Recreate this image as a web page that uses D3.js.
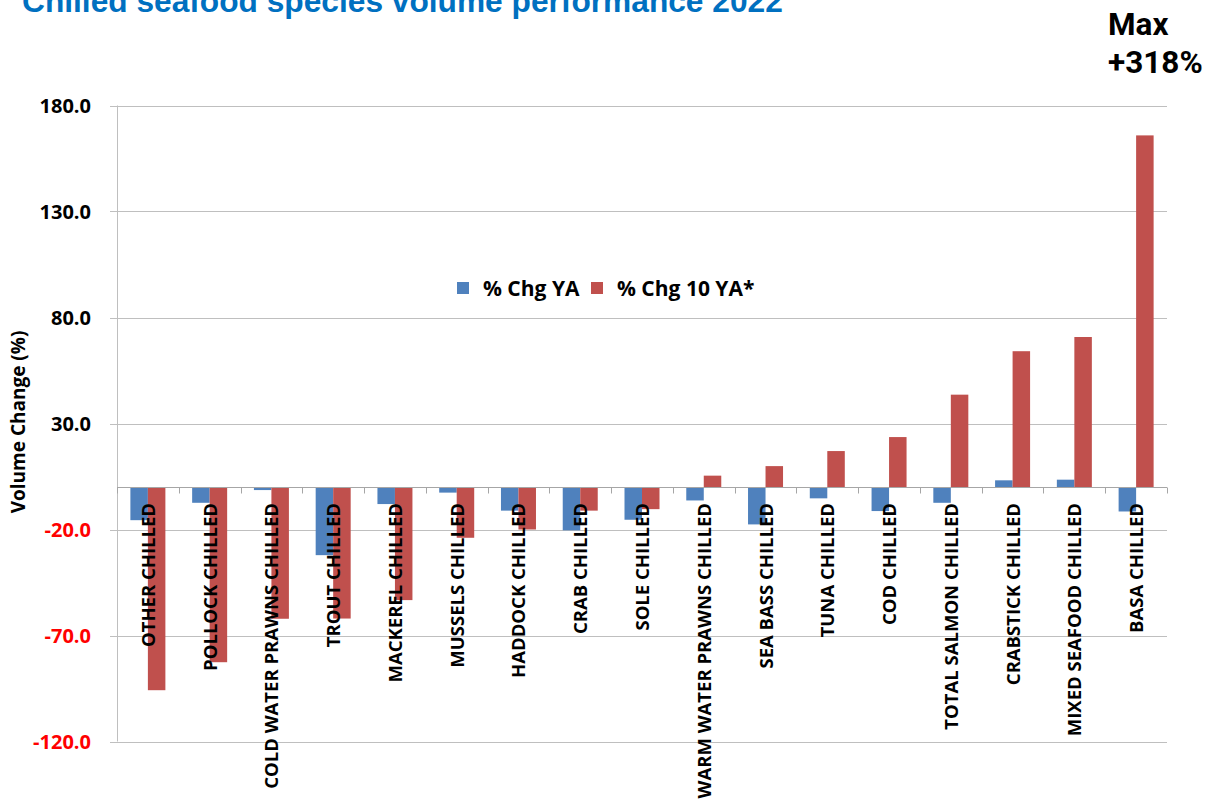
<!DOCTYPE html>
<html>
<head>
<meta charset="utf-8">
<script src="https://cdn.jsdelivr.net/npm/d3@7"></script>
<style>
  html, body { margin: 0; padding: 0; background: #fff; }
  svg { display: block; }
</style>
</head>
<body>
<svg id="chart" width="1206" height="807"></svg>
<script>
// Chilled seafood species, sorted by 10-year change
const categories = [
  "OTHER CHILLED", "POLLOCK CHILLED", "COLD WATER PRAWNS CHILLED", "TROUT CHILLED",
  "MACKEREL CHILLED", "MUSSELS CHILLED", "HADDOCK CHILLED", "CRAB CHILLED",
  "SOLE CHILLED", "WARM WATER PRAWNS CHILLED", "SEA BASS CHILLED", "TUNA CHILLED",
  "COD CHILLED", "TOTAL SALMON CHILLED", "CRABSTICK CHILLED", "MIXED SEAFOOD CHILLED",
  "BASA CHILLED"
];
const seriesNames = ["% Chg YA", "% Chg 10 YA*"];
const chgYA = [-15.6, -7.4, -1.4, -32.1, -8.0, -2.6, -11.1, -20.4, -15.4, -6.3, -17.6, -5.3, -11.3, -7.4, 3.2, 3.5, -11.5];
const chg10YA = [-95.8, -82.6, -62.1, -62.0, -53.3, -23.9, -20.0, -11.1, -10.4, 5.4, 9.9, 17.0, 23.6, 43.6, 64.1, 70.8, 165.9];
const yTicks = [180, 130, 80, 30, -20, -70, -120];
const titleText = "Chilled seafood species volume performance 2022";
const noteLines = ["Max", "+318%"];

const colors = ["#4F81BD", "#C0504D"];
const svg = d3.select("#chart");

const plot = { left: 117, right: 1167, top: 105.5, bottom: 741.5 };

const y = d3.scaleLinear().domain([-120, 180]).range([plot.bottom, plot.top]);
const x0 = d3.scaleBand().domain(categories).range([plot.left, plot.right]).padding(0);
const groupW = 35;
const x1 = d3.scaleBand().domain(seriesNames)
  .range([(x0.step() - groupW) / 2, (x0.step() + groupW) / 2]).padding(0);

// Title (sits partly above the top edge)
svg.append("text")
  .attr("x", 22).attr("y", 12)
  .attr("font-family", "Liberation Sans, Arial, sans-serif")
  .attr("font-weight", "bold")
  .attr("font-size", 31.7)
  .attr("fill", "#0070C0")
  .text(titleText);

// Corner note
svg.append("g").selectAll("text").data(noteLines).join("text")
  .attr("x", 1108)
  .attr("y", (d, i) => 35 + i * 38)
  .attr("font-family", "Roboto, Liberation Sans, sans-serif")
  .attr("font-weight", "bold")
  .attr("font-size", 31.5)
  .attr("fill", "#000")
  .text(d => d);

// Horizontal gridlines
svg.append("g").selectAll("line").data(yTicks).join("line")
  .attr("x1", plot.left - 7).attr("x2", plot.right)
  .attr("y1", d => Math.round(y(d)) + 0.5).attr("y2", d => Math.round(y(d)) + 0.5)
  .attr("stroke", "#BFBFBF").attr("stroke-width", 1);

// Y axis line
svg.append("line")
  .attr("x1", plot.left + 0.5).attr("x2", plot.left + 0.5)
  .attr("y1", plot.top).attr("y2", plot.bottom)
  .attr("stroke", "#BFBFBF");

// Y tick labels (plain hyphen for negatives)
const fmt = d => d3.format(".1f")(d).replace("\u2212", "-");
svg.append("g").selectAll("text").data(yTicks).join("text")
  .attr("x", 91)
  .attr("y", d => y(d) + 7)
  .attr("text-anchor", "end")
  .attr("font-family", "Open Sans, sans-serif")
  .attr("font-weight", "bold")
  .attr("font-size", 20)
  .attr("fill", d => d < 0 ? "#FF0000" : "#000")
  .text(fmt);

// Y axis title
svg.append("text")
  .attr("transform", "translate(25, 422) rotate(-90)")
  .attr("text-anchor", "middle")
  .attr("font-family", "Open Sans, sans-serif")
  .attr("font-weight", "bold")
  .attr("font-size", 19)
  .attr("fill", "#000")
  .text("Volume Change (%)");

// Bars
const rows = categories.map((c, i) => ({ cat: c, vals: [chgYA[i], chg10YA[i]] }));
const groups = svg.append("g").selectAll("g").data(rows).join("g")
  .attr("transform", d => `translate(${x0(d.cat)},0)`);
groups.selectAll("rect").data(d => d.vals.map((v, j) => ({ v, s: seriesNames[j], j })))
  .join("rect")
  .attr("x", d => x1(d.s))
  .attr("width", x1.bandwidth())
  .attr("y", d => y(Math.max(0, d.v)))
  .attr("height", d => Math.abs(y(d.v) - y(0)))
  .attr("fill", d => colors[d.j]);

// Category axis at zero with boundary ticks
const y0 = Math.round(y(0)) + 0.5;
svg.append("line")
  .attr("x1", plot.left).attr("x2", plot.right)
  .attr("y1", y0).attr("y2", y0)
  .attr("stroke", "#A6A6A6").attr("stroke-width", 1.2);
const bounds = categories.map(c => x0(c)).concat([plot.right]);
svg.append("g").selectAll("line").data(bounds).join("line")
  .attr("x1", d => Math.round(d) + 0.5).attr("x2", d => Math.round(d) + 0.5)
  .attr("y1", y0).attr("y2", y0 + 6)
  .attr("stroke", "#A6A6A6");

// Category labels, rotated
svg.append("g").selectAll("text").data(categories).join("text")
  .attr("transform", d => `translate(${x0(d) + x0.step() / 2 + 7}, 503) rotate(-90)`)
  .attr("text-anchor", "end")
  .attr("font-family", "Open Sans, sans-serif")
  .attr("font-weight", "bold")
  .attr("font-size", 18.5)
  .attr("fill", "#000")
  .text(d => d);

// Legend
const legend = svg.append("g").attr("transform", "translate(457, 282)");
const legendX = [0, 134];
seriesNames.forEach((name, i) => {
  legend.append("rect").attr("x", legendX[i]).attr("y", 0)
    .attr("width", 12).attr("height", 12).attr("fill", colors[i]);
  legend.append("text").attr("x", legendX[i] + 26).attr("y", 14)
    .attr("font-family", "Open Sans, sans-serif")
    .attr("font-weight", "bold")
    .attr("font-size", 21)
    .attr("fill", "#000")
    .text(name);
});
</script>
</body>
</html>
